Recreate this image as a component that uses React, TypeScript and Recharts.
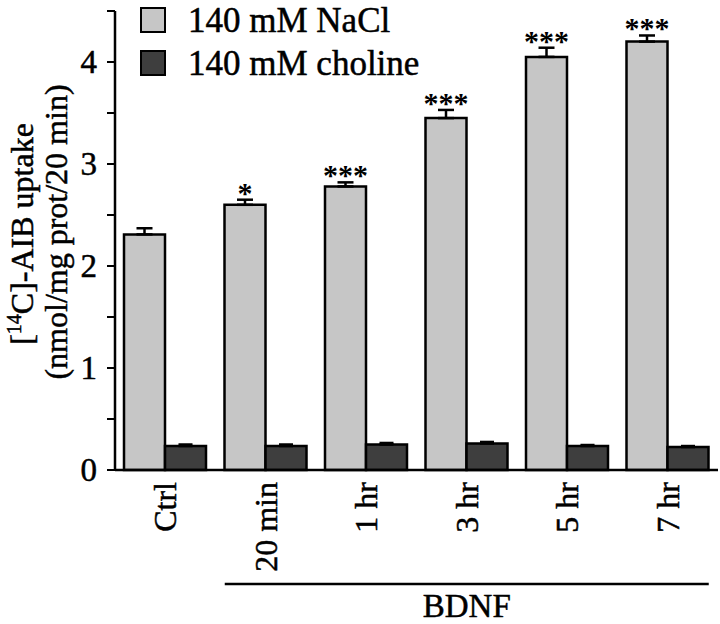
import { BarChart, Bar, XAxis, YAxis, ErrorBar, LabelList } from 'recharts';

const categories = ['Ctrl', '20 min', '1 hr', '3 hr', '5 hr', '7 hr'];
const naclMean = [2.31, 2.6, 2.78, 3.45, 4.05, 4.2];
const naclSem = [0.06, 0.05, 0.04, 0.08, 0.09, 0.06];
const cholineMean = [0.235, 0.235, 0.25, 0.26, 0.235, 0.225];
const cholineSem = [0.015, 0.015, 0.015, 0.015, 0.01, 0.01];
const significance = ['', '*', '***', '***', '***', '***'];
const yTicks = [0, 0.5, 1, 1.5, 2, 2.5, 3, 3.5, 4, 4.5];

const FONT = '"Liberation Serif", "Times New Roman", serif';
const NACL_FILL = '#c6c6c6';
const CHOLINE_FILL = '#3e3e3e';
// scanned original has heavy type, a thin outline thickens it a bit
const INK = { fill: '#000', stroke: '#000', strokeWidth: 0.5 };

const W = 720;
const H = 624;
const Y_AXIS_W = 115;
const RIGHT = 2;
const BAR_SIZE = 41;
const BAND = (W - Y_AXIS_W - RIGHT) / categories.length;

const data = categories.map((name, i) => ({
  name,
  nacl: naclMean[i],
  naclErr: [0, naclSem[i]],
  choline: cholineMean[i],
  cholineErr: [0, cholineSem[i]],
  sig: significance[i],
}));

function CategoryTick(props: any) {
  const { x, y, payload, index } = props;
  return (
    <g>
      <text
        x={x}
        y={y}
        transform={`rotate(-90, ${x}, ${y})`}
        textAnchor="end"
        dominantBaseline="central"
        fontFamily={FONT}
        fontSize={32}
        {...INK}
      >
        {payload.value}
      </text>
      {index === 1 && (
        <g>
          <line
            x1={x - BAR_SIZE}
            x2={x + 4 * BAND + BAR_SIZE}
            y1={y + 102}
            y2={y + 102}
            stroke="#000"
            strokeWidth={2.5}
          />
          <text x={x + 2 * BAND} y={y + 135} textAnchor="middle" fontFamily={FONT} fontSize={33} {...INK}>
            BDNF
          </text>
        </g>
      )}
    </g>
  );
}

function ValueTick(props: any) {
  const { x, y, payload } = props;
  if (!Number.isInteger(payload.value)) return null;
  return (
    <text x={x} y={y} textAnchor="end" dominantBaseline="central" fontFamily={FONT} fontSize={33} {...INK}>
      {payload.value}
    </text>
  );
}

function Stars(props: any) {
  const { x, y, width, height, value, index } = props;
  const sig = significance[index];
  if (!sig) return null;
  const errPx = (naclSem[index] / value) * height;
  return (
    <text
      x={x + width / 2}
      y={y - errPx + 3}
      textAnchor="middle"
      fontFamily={FONT}
      fontWeight="bold"
      fontSize={30}
      fill="#000"
    >
      {sig}
    </text>
  );
}

function YLabel() {
  return (
    <g fontFamily={FONT} fontSize={32} {...INK}>
      <text x={33} y={234} transform="rotate(-90, 33, 234)" textAnchor="middle">
        [<tspan fontSize={20} dy={-12}>14</tspan>
        <tspan dy={12}>C]-AIB uptake</tspan>
      </text>
      <text x={67} y={232} transform="rotate(-90, 67, 232)" textAnchor="middle">
        (nmol/mg prot/20 min)
      </text>
    </g>
  );
}

export default function App() {
  return (
    <div style={{ position: 'absolute', left: 0, top: 0, width: W, height: H, background: '#fff' }}>
      <BarChart
        width={W}
        height={H}
        data={data}
        margin={{ top: 11, right: RIGHT, left: 0, bottom: 0 }}
        barGap={0}
        barSize={BAR_SIZE}
      >
        <XAxis
          dataKey="name"
          height={154}
          axisLine={{ stroke: '#000', strokeWidth: 2.5 }}
          tickLine={false}
          tickSize={8}
          tickMargin={4}
          interval={0}
          tick={<CategoryTick />}
        />
        <YAxis
          width={Y_AXIS_W}
          domain={[0, 4.5]}
          ticks={yTicks}
          interval={0}
          axisLine={{ stroke: '#000', strokeWidth: 2.5 }}
          tickLine={{ stroke: '#000', strokeWidth: 2 }}
          tickSize={8}
          tickMargin={10}
          tick={<ValueTick />}
          label={{ content: () => <YLabel /> }}
        />
        <Bar dataKey="nacl" fill={NACL_FILL} stroke="#000" strokeWidth={2.5} isAnimationActive={false}>
          <ErrorBar dataKey="naclErr" direction="y" width={8} stroke="#000" strokeWidth={2.5} />
          <LabelList dataKey="nacl" content={<Stars />} />
        </Bar>
        <Bar dataKey="choline" fill={CHOLINE_FILL} stroke="#000" strokeWidth={2.5} isAnimationActive={false}>
          <ErrorBar dataKey="cholineErr" direction="y" width={7} stroke="#000" strokeWidth={2.5} />
        </Bar>
      </BarChart>
      <svg width={480} height={90} style={{ position: 'absolute', left: 0, top: 0 }}>
        <rect x={141} y={8} width={24} height={24} fill={NACL_FILL} stroke="#000" strokeWidth={2} />
        <text x={188} y={32} fontFamily={FONT} fontSize={35} {...INK}>
          140 mM NaCl
        </text>
        <rect x={141} y={51} width={24} height={24} fill={CHOLINE_FILL} stroke="#000" strokeWidth={2} />
        <text x={188} y={75} fontFamily={FONT} fontSize={35} {...INK}>
          140 mM choline
        </text>
      </svg>
    </div>
  );
}
